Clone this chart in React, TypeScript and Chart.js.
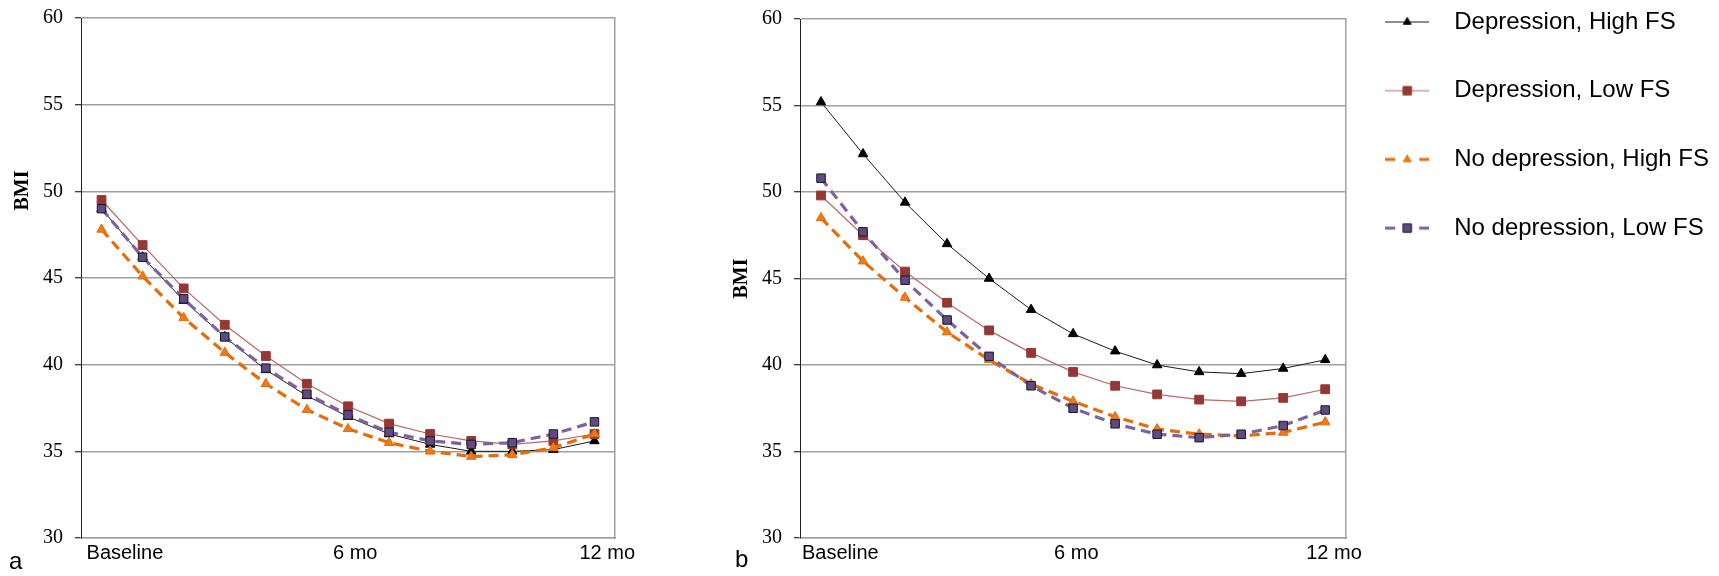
import React, { useEffect, useRef } from 'react';
import { Chart, registerables } from 'chart.js';

Chart.register(...registerables);

// ---------- data ----------
const xLabels = ['Baseline', '', '', '', '', '', '6 mo', '', '', '', '', '', '12 mo'];
const seriesNames = ['Depression, High FS', 'Depression, Low FS', 'No depression, High FS', 'No depression, Low FS'];
const yTickValues = [30, 35, 40, 45, 50, 55, 60];

// panel a
const aDepHigh = [49.0, 46.2, 43.7, 41.6, 39.7, 38.2, 37.0, 36.0, 35.4, 35.0, 35.0, 35.1, 35.6];
const aDepLow = [49.5, 46.9, 44.4, 42.3, 40.5, 38.9, 37.6, 36.6, 36.0, 35.6, 35.4, 35.6, 36.0];
const aNoDepHigh = [47.8, 45.1, 42.7, 40.7, 38.9, 37.4, 36.3, 35.5, 35.0, 34.7, 34.8, 35.2, 36.0];
const aNoDepLow = [49.0, 46.2, 43.8, 41.6, 39.8, 38.3, 37.1, 36.1, 35.6, 35.4, 35.5, 36.0, 36.7];

// panel b
const bDepHigh = [55.2, 52.2, 49.4, 47.0, 45.0, 43.2, 41.8, 40.8, 40.0, 39.6, 39.5, 39.8, 40.3];
const bDepLow = [49.8, 47.5, 45.4, 43.6, 42.0, 40.7, 39.6, 38.8, 38.3, 38.0, 37.9, 38.1, 38.6];
const bNoDepHigh = [48.5, 46.0, 43.9, 41.9, 40.3, 38.9, 37.9, 37.0, 36.3, 36.0, 35.9, 36.1, 36.7];
const bNoDepLow = [50.8, 47.7, 44.9, 42.6, 40.5, 38.8, 37.5, 36.6, 36.0, 35.8, 36.0, 36.5, 37.4];

// ---------- styles ----------
const SANS = "'Liberation Sans', Arial, sans-serif";
const SERIF = "'Liberation Serif', 'Times New Roman', serif";
const GRID = '#a0a0a0';

type St = {
  line: string; width: number; dash: number[]; point: 'triangle' | 'rect';
  radius: number; fill: string; border: string;
};

const STYLES: St[] = [
  { line: '#1a1a1a', width: 1, dash: [], point: 'triangle', radius: 5.5, fill: '#000000', border: '#000000' },
  { line: '#b86a68', width: 1.2, dash: [], point: 'rect', radius: 6.2, fill: '#953735', border: '#953735' },
  { line: '#e46c0a', width: 3.2, dash: [10, 6], point: 'triangle', radius: 5.5, fill: '#ee7a1a', border: '#e46c0a' },
  { line: '#7d62a0', width: 3.2, dash: [10, 6], point: 'rect', radius: 6, fill: '#5f4a85', border: '#1a1a1a' },
];

function makeIcon(st: St): HTMLCanvasElement {
  const c = document.createElement('canvas');
  c.width = 44;
  c.height = 18;
  const ctx = c.getContext('2d')!;
  ctx.strokeStyle = st.line;
  ctx.lineWidth = st.width;
  ctx.setLineDash(st.dash.length ? [10, 24] : []);
  ctx.beginPath();
  ctx.moveTo(0, 9);
  ctx.lineTo(44, 9);
  ctx.stroke();
  ctx.setLineDash([]);
  ctx.fillStyle = st.fill;
  ctx.strokeStyle = st.border;
  ctx.lineWidth = 1;
  ctx.beginPath();
  if (st.point === 'triangle') {
    const r = 4.5;
    ctx.moveTo(22, 9 - r);
    ctx.lineTo(22 + r * 0.866, 9 + r * 0.5);
    ctx.lineTo(22 - r * 0.866, 9 + r * 0.5);
    ctx.closePath();
  } else {
    const s = 4.2;
    ctx.rect(22 - s, 9 - s, 2 * s, 2 * s);
  }
  ctx.fill();
  ctx.stroke();
  return c;
}

// shift of the axis title above the axis middle, in pixels (title is centred, so
// leading blank space of twice the shift moves the visible word up)
function shiftedTitle(text: string, shift: number): string {
  if (shift <= 0) return text;
  const c = document.createElement('canvas').getContext('2d')!;
  c.font = `bold 20px ${SERIF}`;
  const w = c.measureText(' ').width || 5;
  const n = Math.round((2 * shift) / w);
  return ' '.repeat(n) + text;
}

type PanelOpts = {
  values: number[][];
  yWidth: number;
  y2Width: number;
  top: number;
  legend: boolean;
  labelOffset: number;
  titleShift: number;
};

function buildConfig(o: PanelOpts): any {
  const icons = STYLES.map(makeIcon);
  return {
    type: 'line',
    data: {
      labels: xLabels,
      datasets: seriesNames.map((name, i) => {
        const st = STYLES[i];
        return {
          label: name,
          data: o.values[i],
          borderColor: st.line,
          borderWidth: st.width,
          borderDash: st.dash,
          backgroundColor: st.fill,
          fill: false,
          tension: 0,
          pointStyle: st.point,
          pointRadius: st.radius,
          pointBackgroundColor: st.fill,
          pointBorderColor: st.border,
          pointBorderWidth: 1,
          order: 4 - i,
          xAxisID: 'x',
          yAxisID: 'y',
        };
      }),
    },
    options: {
      responsive: false,
      animation: false,
      layout: { padding: 0 },
      plugins: {
        tooltip: { enabled: false },
        legend: o.legend
          ? {
              display: true,
              position: 'right',
              align: 'start',
              maxWidth: 500,
              labels: {
                usePointStyle: true,
                pointStyleWidth: 70,
                padding: 10,
                color: '#000',
                font: { family: SANS, size: 24, lineHeight: 2.446 },
                generateLabels: (chart: any) => {
                  const items = Chart.defaults.plugins.legend.labels.generateLabels(chart);
                  return items
                    .sort((a: any, b: any) => a.datasetIndex - b.datasetIndex)
                    .map((it: any) => ({ ...it, text: [it.text], pointStyle: icons[it.datasetIndex] }));
                },
              },
            }
          : { display: false },
      },
      scales: {
        x: {
          type: 'category',
          offset: true,
          grid: { display: false, drawTicks: false },
          border: { display: true, color: GRID, width: 1.5 },
          ticks: {
            autoSkip: false,
            maxRotation: 0,
            minRotation: 0,
            align: 'start',
            labelOffset: o.labelOffset,
            padding: 3,
            color: '#000',
            font: { family: SANS, size: 20 },
          },
          afterFit: (s: any) => {
            s.height = 38;
            s.paddingLeft = 0;
            s.paddingRight = 0;
          },
        },
        y: {
          type: 'linear',
          position: 'left',
          min: yTickValues[0],
          max: yTickValues[yTickValues.length - 1],
          afterBuildTicks: (s: any) => {
            s.ticks = yTickValues.map((v) => ({ value: v }));
          },
          ticks: { padding: 12, color: '#000', font: { family: SERIF, size: 20 } },
          grid: { color: GRID, lineWidth: 1.5, tickColor: '#000', tickLength: 6, tickWidth: 1, drawTicks: true },
          border: { display: true, color: '#222', width: 1 },
          title: {
            display: true,
            text: shiftedTitle('BMI', o.titleShift),
            color: '#000',
            font: { family: SERIF, size: 20, weight: 'bold' },
            padding: { top: 11, bottom: 0 },
          },
          afterFit: (s: any) => {
            s.width = o.yWidth;
            s.paddingTop = o.top;
            s.paddingBottom = 0;
          },
        },
        y2: {
          type: 'linear',
          position: 'right',
          display: true,
          grid: { display: false, drawTicks: false },
          ticks: { display: false },
          border: { display: true, color: GRID, width: 1.5 },
          afterFit: (s: any) => {
            s.width = o.y2Width;
            s.paddingTop = 0;
            s.paddingBottom = 0;
          },
        },
      },
    },
  };
}

function Panel(props: PanelOpts & { left: number; width: number }) {
  const ref = useRef<HTMLCanvasElement>(null);
  useEffect(() => {
    const chart = new Chart(ref.current!, buildConfig(props));
    return () => chart.destroy();
  }, []);
  return (
    <canvas
      ref={ref}
      width={props.width}
      height={576}
      style={{ position: 'absolute', left: props.left, top: 0, width: props.width, height: 576 }}
    />
  );
}

const letterStyle: React.CSSProperties = {
  position: 'absolute',
  font: `24px ${SANS}`,
  lineHeight: '24px',
  color: '#000',
};

export default function App() {
  return (
    <div style={{ position: 'absolute', left: 0, top: 0, width: 1719, height: 576, overflow: 'hidden', background: '#fff' }}>
      <Panel
        left={0}
        width={640}
        values={[aDepHigh, aDepLow, aNoDepHigh, aNoDepLow]}
        yWidth={81}
        y2Width={25}
        top={18}
        legend={false}
        labelOffset={-15}
        titleShift={88}
      />
      <Panel
        left={719}
        width={1000}
        values={[bDepHigh, bDepLow, bNoDepHigh, bNoDepLow]}
        yWidth={81}
        y2Width={16}
        top={19}
        legend={true}
        labelOffset={-19}
        titleShift={0}
      />
      <div style={{ ...letterStyle, left: 9, top: 549 }}>a</div>
      <div style={{ ...letterStyle, left: 735, top: 547 }}>b</div>
    </div>
  );
}
